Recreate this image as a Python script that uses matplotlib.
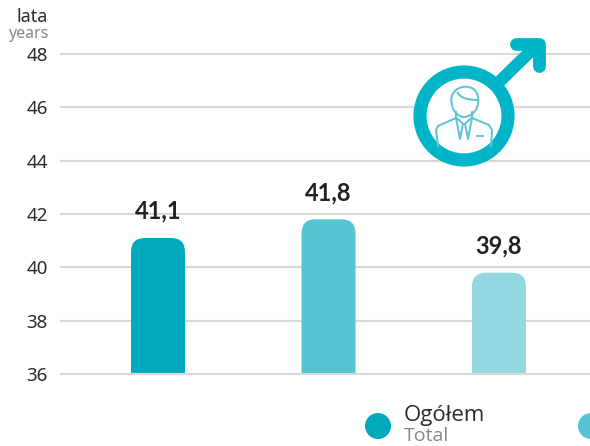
"""
Average age bars (men) with the male symbol icon on top.
"""

import matplotlib
matplotlib.use('Agg')
import matplotlib.pyplot as plt
from matplotlib.patches import Circle, FancyBboxPatch, PathPatch
from matplotlib.path import Path

# data
groups = [0, 1, 2]
values = [41.1, 41.8, 39.8]
value_labels = ['41,1', '41,8', '39,8']
bar_colors = ['#00a9bd', '#56c5d3', '#93d7e1']
y_ticks = [36, 38, 40, 42, 44, 46, 48]
legend_main = 'Ogółem'
legend_sub = 'Total'

W, H = 590, 446
TEAL = '#00b5c8'
ICON = '#62c6d4'

fig = plt.figure(figsize=(W / 100, H / 100), dpi=100)

# main chart, axes edges placed on the pixel positions of the reference
left, right, top, bottom = 61, 590, 54, 374
ax = fig.add_axes([left / W, 1 - bottom / H, (right - left) / W, (bottom - top) / H])
px_per_group = 170.5
ax.set_xlim((left - 158) / px_per_group, (right - 158) / px_per_group)
ax.set_ylim(36, 48)
px_per_year = (bottom - top) / 12

ax.set_yticks(y_ticks)
ax.set_xticks([])
ax.tick_params(axis='y', length=0, pad=9.4, labelsize=13.5, labelcolor='#2b2b2b')
for t in ax.get_yticklabels():
    t.set_family('Noto Sans')
ax.grid(axis='y', color='#d8d8d8', linewidth=1.5, clip_on=False)
ax.set_axisbelow(True)
ax.patch.set_alpha(0)
for s in ax.spines.values():
    s.set_visible(False)

# rounded bars, bottom corners hidden below the axis
bar_w = 54 / px_per_group
radius = 14 / px_per_group
aspect = px_per_group / px_per_year
for g, v, c, lab in zip(groups, values, bar_colors, value_labels):
    box = FancyBboxPatch((g - bar_w / 2, 34), bar_w, v - 34,
                         boxstyle=f'round,pad=0,rounding_size={radius}', mutation_aspect=aspect,
                         facecolor=c, edgecolor='none', zorder=3)
    ax.add_patch(box)
    ax.annotate(lab, (g, v), xytext=(0, 11), textcoords='offset points', ha='center', va='bottom',
                fontsize=17, fontweight='bold', family='Lato', color='#222222')
ax.axhline(36, color='#d8d8d8', linewidth=1.5, zorder=4, clip_on=False)

# overlay in pixel coordinates for the icon, legend and unit labels
ov = fig.add_axes([0, 0, 1, 1])
ov.set_xlim(0, W)
ov.set_ylim(H, 0)
ov.axis('off')

ov.text(48, 17, 'lata', ha='right', va='center', fontsize=13, family='Noto Sans', color='#2b2b2b')
ov.text(48, 34, 'years', ha='right', va='center', fontsize=11.5, family='Noto Sans', color='#85888c')

# male symbol
cx, cy = 464, 116
ov.plot([498, 536], [83, 46], color=TEAL, lw=8.8, solid_capstyle='butt', zorder=5)
ov.add_patch(PathPatch(Path([(515.5, 43.5), (538.7, 43.5), (538.7, 65.5)]), fill=False, edgecolor=TEAL,
                       lw=9.2, capstyle='round', joinstyle='round', zorder=5))
ov.add_patch(Circle((cx, cy), 44, facecolor='white', edgecolor=TEAL, lw=9.5, zorder=6))

# person inside the ring
line = dict(color=ICON, lw=1.5, zorder=7, solid_capstyle='round')
head = Path([(452, 104), (446, 84), (482, 78), (478, 104),
             (476, 114), (468, 117), (464, 117),
             (460, 117), (453, 113), (452, 104)],
            [1, 4, 4, 4, 4, 4, 4, 4, 4, 4])
ov.add_patch(PathPatch(head, fill=False, edgecolor=ICON, lw=1.5, zorder=7))
ov.add_patch(PathPatch(Path([(457, 92), (461, 99), (470, 100), (479, 100)], [1, 4, 4, 4]),
                       fill=False, edgecolor=ICON, lw=1.5, zorder=7))
ov.plot([456, 456, 438, 436, 438], [112, 118, 126, 130, 146], **line)
ov.plot([472, 472, 489, 492, 491], [112, 118, 125, 130, 146], **line)
ov.plot([456, 458, 460, 463, 459, 456], [118, 128, 139, 124, 120, 118], **line)
ov.plot([472, 470, 468, 465, 469, 472], [118, 128, 139, 124, 120, 118], **line)
ov.plot([477, 483], [136, 136], **line)

# legend, second entry runs off the image
ov.add_patch(Circle((378, 426), 13, facecolor=bar_colors[0], edgecolor='none'))
ov.add_patch(Circle((591, 426), 13, facecolor=bar_colors[1], edgecolor='none'))
ov.text(404, 415, legend_main, ha='left', va='center', fontsize=16, family='Open Sans', color='#2b2b2b')
ov.text(404, 436, legend_sub, ha='left', va='center', fontsize=14, family='Open Sans', color='#85888c')

fig.savefig('out.png', dpi=100)
